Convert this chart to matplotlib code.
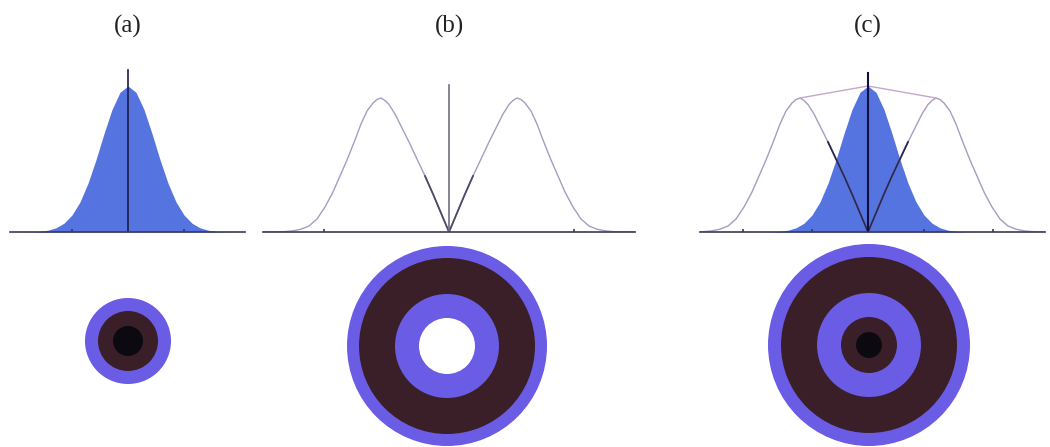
import matplotlib
matplotlib.use("Agg")
import matplotlib.pyplot as plt
from matplotlib.patches import Circle

# --- data (pixel-like units, x measured from each panel's centre) ---
gauss_x = [-112, -104, -96, -88, -80, -72, -64, -56, -48, -40, -32, -24, -16, -8, 0,
           8, 16, 24, 32, 40, 48, 56, 64, 72, 80, 88, 96, 104, 112]
gauss_y = [0, 0.05, 0.2, 0.7, 1.8, 4.2, 8.8, 17.0, 30.1, 48.8, 72.3, 98.4, 122.5, 139.7, 146,
           139.7, 122.5, 98.4, 72.3, 48.8, 30.1, 17.0, 8.8, 4.2, 1.8, 0.7, 0.2, 0.05, 0]

lobe_r_x = [0, 8, 16, 24, 32, 40, 48, 54, 60, 64, 68, 72, 76, 82, 88, 94, 102, 109,
            116, 124, 132, 140, 148, 156, 164, 172, 186]
lobe_l_x = [0, -8, -16, -24, -32, -40, -48, -54, -60, -64, -68, -72, -76, -82, -88, -94, -102, -109,
            -116, -124, -132, -140, -148, -156, -164, -172, -186]
lobe_y = [0, 19, 38, 56, 73, 90, 106, 118, 127.5, 131.5, 134, 132.5, 129, 121, 108, 92, 72, 56,
          40, 25, 13, 6, 2.8, 1.2, 0.4, 0.1, 0]

vline_h = {'a': 162, 'b': 147, 'c': 159}
ticks = {'a': [-56, 56], 'b': [-125, 125], 'c': [-125, -56, 56, 125]}
labels = ['(a)', '(b)', '(c)']

# ring radii (outer -> inner) and colours
rings_a = [43, 30, 15]
rings_b = [100, 88, 52, 28]
rings_c = [101, 88, 52, 28, 13]

BLUE = '#6a5ce4'
BROWN = '#3a1f28'
BLACK = '#0c0a10'
FILL = '#5674e0'
ring_cols_a = [BLUE, BROWN, BLACK]
ring_cols_b = [BLUE, BROWN, BLUE, 'white']
ring_cols_c = [BLUE, BROWN, BLUE, BROWN, BLACK]

W, H = 1050, 447
fig = plt.figure(figsize=(10.5, 4.47), dpi=100)


def px_axes(left, top, width, height):
    return fig.add_axes([left / W, (H - top - height) / H, width / W, height / H])


def top_panel(left, width, center, key):
    ax = px_axes(left, 232 - 165, width, 165)
    ax.set_xlim(-(center - left), left + width - center)
    ax.set_ylim(0, 165)
    for s in ['top', 'right', 'left']:
        ax.spines[s].set_visible(False)
    ax.spines['bottom'].set_color('#3a3a58')
    ax.spines['bottom'].set_linewidth(1.2)
    ax.set_yticks([])
    ax.set_xticks(ticks[key])
    ax.tick_params(axis='x', direction='in', length=2, width=1.2, color='#3a3a58',
                   labelbottom=False)
    ax.patch.set_alpha(0)
    return ax


# (a)
ax = top_panel(10, 235, 128, 'a')
ax.fill_between(gauss_x, gauss_y, color=FILL, lw=0)
ax.plot([0, 0], [0, vline_h['a']], color='#1c1c4c', lw=1.2)

# (b)
ax = top_panel(263, 372, 449, 'b')
for lx in (lobe_l_x, lobe_r_x):
    ax.plot(lx, lobe_y, color='#a69cc2', lw=1.0)
    ax.plot(lx[:4], lobe_y[:4], color='#4e4a66', lw=1.3)
ax.plot([0, 0], [0, vline_h['b']], color='#6e6e80', lw=1.2)

# (c)
ax = top_panel(700, 345, 868, 'c')
ax.fill_between(gauss_x, gauss_y, color=FILL, lw=0)
for lx in (lobe_l_x, lobe_r_x):
    ax.plot(lx, lobe_y, color='#a69cc2', lw=1.0)
    ax.plot(lx[:6], lobe_y[:6], color='#2a2850', lw=1.3)
pk = lobe_y.index(max(lobe_y))
ax.plot([lobe_l_x[pk], 0, lobe_r_x[pk]], [max(lobe_y), max(gauss_y), max(lobe_y)],
        color='#c4a8cc', lw=1.0)
ax.plot([0, 0], [0, vline_h['c']], color='#101040', lw=1.5)

# rings
for cx, cy, radii, cols in [(128, 341, rings_a, ring_cols_a),
                            (447, 346, rings_b, ring_cols_b),
                            (869, 345, rings_c, ring_cols_c)]:
    ax = px_axes(cx - 115, cy - 115, 230, 230)
    ax.set_xlim(-115, 115)
    ax.set_ylim(-115, 115)
    ax.axis('off')
    for r, c in zip(radii, cols):
        ax.add_patch(Circle((0, 0), r, color=c, lw=0))

# panel labels
for x, lab in zip([128, 449, 868], labels):
    fig.text(x / W, (H - 26) / H, lab, ha='center', va='center',
             fontsize=18, family='Liberation Serif', color='#222222')

fig.savefig('out.png', dpi=100)
